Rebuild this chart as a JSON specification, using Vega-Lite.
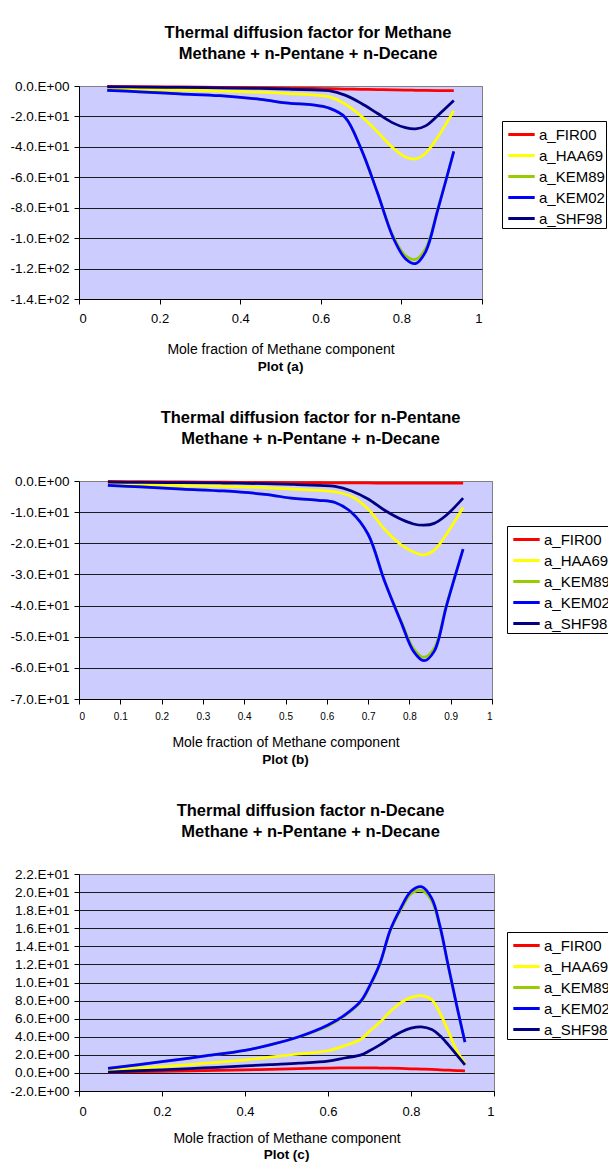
{
  "$schema": "https://vega.github.io/schema/vega-lite/v6.json",
  "background": "white",
  "padding": {"left": 9, "top": 25, "right": 0, "bottom": 0},
  "datasets": {
    "rows": [
      {"p":"a","x":0.07,"a_FIR00":-0.3,"a_HAA69":-1.4,"a_KEM89":-2.8,"a_KEM02":-2.8,"a_SHF98":-0.6},
      {"p":"a","x":0.15,"a_FIR00":-0.45,"a_HAA69":-2.0,"a_KEM89":-3.8,"a_KEM02":-3.8,"a_SHF98":-0.7},
      {"p":"a","x":0.25,"a_FIR00":-0.65,"a_HAA69":-2.7,"a_KEM89":-5.2,"a_KEM02":-5.2,"a_SHF98":-0.9},
      {"p":"a","x":0.35,"a_FIR00":-0.85,"a_HAA69":-3.3,"a_KEM89":-6.4,"a_KEM02":-6.4,"a_SHF98":-1.2},
      {"p":"a","x":0.45,"a_FIR00":-1.1,"a_HAA69":-4.1,"a_KEM89":-8.8,"a_KEM02":-8.8,"a_SHF98":-1.6},
      {"p":"a","x":0.52,"a_FIR00":-1.35,"a_HAA69":-5.0,"a_KEM89":-11.3,"a_KEM02":-11.3,"a_SHF98":-2.1},
      {"p":"a","x":0.58,"a_FIR00":-1.6,"a_HAA69":-5.9,"a_KEM89":-12.4,"a_KEM02":-12.4,"a_SHF98":-2.6},
      {"p":"a","x":0.62,"a_FIR00":-1.8,"a_HAA69":-7.0,"a_KEM89":-14.5,"a_KEM02":-14.5,"a_SHF98":-3.1},
      {"p":"a","x":0.66,"a_FIR00":-2.0,"a_HAA69":-11.8,"a_KEM89":-20.5,"a_KEM02":-20.5,"a_SHF98":-6.0},
      {"p":"a","x":0.70,"a_FIR00":-2.2,"a_HAA69":-19.7,"a_KEM89":-41.3,"a_KEM02":-41.3,"a_SHF98":-11.3},
      {"p":"a","x":0.74,"a_FIR00":-2.4,"a_HAA69":-30,"a_KEM89":-69.7,"a_KEM02":-69.7,"a_SHF98":-17.9},
      {"p":"a","x":0.78,"a_FIR00":-2.55,"a_HAA69":-40.9,"a_KEM89":-99,"a_KEM02":-100,"a_SHF98":-24.4},
      {"p":"a","x":0.81,"a_FIR00":-2.7,"a_HAA69":-46.6,"a_KEM89":-111.5,"a_KEM02":-113.5,"a_SHF98":-27.4},
      {"p":"a","x":0.835,"a_FIR00":-2.8,"a_HAA69":-47.9,"a_KEM89":-114,"a_KEM02":-116.7,"a_SHF98":-28.2},
      {"p":"a","x":0.86,"a_FIR00":-2.9,"a_HAA69":-44.2,"a_KEM89":-107,"a_KEM02":-109,"a_SHF98":-26.2},
      {"p":"a","x":0.89,"a_FIR00":-3.0,"a_HAA69":-33.7,"a_KEM89":-81,"a_KEM02":-81.7,"a_SHF98":-19.5},
      {"p":"a","x":0.93,"a_FIR00":-3.1,"a_HAA69":-16.2,"a_KEM89":-43,"a_KEM02":-43,"a_SHF98":-9.6},

      {"p":"b","x":0.07,"a_FIR00":-0.15,"a_HAA69":-0.75,"a_KEM89":-1.4,"a_KEM02":-1.4,"a_SHF98":-0.4},
      {"p":"b","x":0.15,"a_FIR00":-0.2,"a_HAA69":-1.1,"a_KEM89":-1.9,"a_KEM02":-1.9,"a_SHF98":-0.45},
      {"p":"b","x":0.25,"a_FIR00":-0.3,"a_HAA69":-1.45,"a_KEM89":-2.6,"a_KEM02":-2.6,"a_SHF98":-0.55},
      {"p":"b","x":0.35,"a_FIR00":-0.4,"a_HAA69":-1.75,"a_KEM89":-3.2,"a_KEM02":-3.2,"a_SHF98":-0.65},
      {"p":"b","x":0.45,"a_FIR00":-0.45,"a_HAA69":-2.1,"a_KEM89":-4.3,"a_KEM02":-4.3,"a_SHF98":-0.85},
      {"p":"b","x":0.52,"a_FIR00":-0.5,"a_HAA69":-2.6,"a_KEM89":-5.6,"a_KEM02":-5.6,"a_SHF98":-1.1},
      {"p":"b","x":0.58,"a_FIR00":-0.55,"a_HAA69":-3.0,"a_KEM89":-6.2,"a_KEM02":-6.2,"a_SHF98":-1.4},
      {"p":"b","x":0.62,"a_FIR00":-0.6,"a_HAA69":-3.5,"a_KEM89":-6.9,"a_KEM02":-6.9,"a_SHF98":-1.7},
      {"p":"b","x":0.66,"a_FIR00":-0.62,"a_HAA69":-5.0,"a_KEM89":-10.1,"a_KEM02":-10.1,"a_SHF98":-3.2},
      {"p":"b","x":0.70,"a_FIR00":-0.64,"a_HAA69":-9.0,"a_KEM89":-17.1,"a_KEM02":-17.1,"a_SHF98":-5.8},
      {"p":"b","x":0.74,"a_FIR00":-0.66,"a_HAA69":-15.5,"a_KEM89":-32.2,"a_KEM02":-32.2,"a_SHF98":-9.4},
      {"p":"b","x":0.78,"a_FIR00":-0.67,"a_HAA69":-20.5,"a_KEM89":-45,"a_KEM02":-45.4,"a_SHF98":-12.3},
      {"p":"b","x":0.81,"a_FIR00":-0.68,"a_HAA69":-22.8,"a_KEM89":-53.8,"a_KEM02":-54.7,"a_SHF98":-13.8},
      {"p":"b","x":0.835,"a_FIR00":-0.69,"a_HAA69":-23.7,"a_KEM89":-56.6,"a_KEM02":-57.7,"a_SHF98":-14.2},
      {"p":"b","x":0.86,"a_FIR00":-0.7,"a_HAA69":-22.2,"a_KEM89":-53.8,"a_KEM02":-54.7,"a_SHF98":-13.6},
      {"p":"b","x":0.89,"a_FIR00":-0.7,"a_HAA69":-17,"a_KEM89":-39.6,"a_KEM02":-40,"a_SHF98":-10.9},
      {"p":"b","x":0.93,"a_FIR00":-0.7,"a_HAA69":-8.5,"a_KEM89":-21.9,"a_KEM02":-21.9,"a_SHF98":-5.5},

      {"p":"c","x":0.07,"a_FIR00":0.08,"a_HAA69":0.3,"a_KEM89":0.5,"a_KEM02":0.5,"a_SHF98":0.1},
      {"p":"c","x":0.2,"a_FIR00":0.17,"a_HAA69":0.7,"a_KEM89":1.25,"a_KEM02":1.25,"a_SHF98":0.35},
      {"p":"c","x":0.3,"a_FIR00":0.25,"a_HAA69":1.05,"a_KEM89":1.85,"a_KEM02":1.85,"a_SHF98":0.55},
      {"p":"c","x":0.4,"a_FIR00":0.33,"a_HAA69":1.45,"a_KEM89":2.5,"a_KEM02":2.5,"a_SHF98":0.78},
      {"p":"c","x":0.46,"a_FIR00":0.4,"a_HAA69":1.75,"a_KEM89":3.1,"a_KEM02":3.1,"a_SHF98":0.92},
      {"p":"c","x":0.53,"a_FIR00":0.47,"a_HAA69":2.1,"a_KEM89":4.0,"a_KEM02":4.0,"a_SHF98":1.07},
      {"p":"c","x":0.6,"a_FIR00":0.53,"a_HAA69":2.45,"a_KEM89":5.2,"a_KEM02":5.3,"a_SHF98":1.3},
      {"p":"c","x":0.64,"a_FIR00":0.55,"a_HAA69":3.0,"a_KEM89":6.3,"a_KEM02":6.4,"a_SHF98":1.65},
      {"p":"c","x":0.68,"a_FIR00":0.55,"a_HAA69":3.75,"a_KEM89":7.9,"a_KEM02":8.0,"a_SHF98":2.0},
      {"p":"c","x":0.70,"a_FIR00":0.55,"a_HAA69":4.6,"a_KEM89":9.5,"a_KEM02":9.6,"a_SHF98":2.45},
      {"p":"c","x":0.725,"a_FIR00":0.54,"a_HAA69":5.6,"a_KEM89":12.0,"a_KEM02":12.1,"a_SHF98":3.1},
      {"p":"c","x":0.75,"a_FIR00":0.52,"a_HAA69":6.8,"a_KEM89":15.7,"a_KEM02":15.8,"a_SHF98":3.85},
      {"p":"c","x":0.775,"a_FIR00":0.5,"a_HAA69":7.75,"a_KEM89":18.0,"a_KEM02":18.2,"a_SHF98":4.5},
      {"p":"c","x":0.8,"a_FIR00":0.46,"a_HAA69":8.35,"a_KEM89":19.8,"a_KEM02":20.1,"a_SHF98":4.95},
      {"p":"c","x":0.825,"a_FIR00":0.42,"a_HAA69":8.55,"a_KEM89":20.2,"a_KEM02":20.6,"a_SHF98":5.1},
      {"p":"c","x":0.85,"a_FIR00":0.38,"a_HAA69":8.1,"a_KEM89":19.0,"a_KEM02":19.3,"a_SHF98":4.8},
      {"p":"c","x":0.87,"a_FIR00":0.34,"a_HAA69":6.6,"a_KEM89":16.0,"a_KEM02":16.2,"a_SHF98":4.1},
      {"p":"c","x":0.89,"a_FIR00":0.3,"a_HAA69":4.6,"a_KEM89":11.7,"a_KEM02":11.8,"a_SHF98":3.1},
      {"p":"c","x":0.91,"a_FIR00":0.26,"a_HAA69":2.5,"a_KEM89":7.4,"a_KEM02":7.5,"a_SHF98":2.0},
      {"p":"c","x":0.93,"a_FIR00":0.22,"a_HAA69":1.1,"a_KEM89":3.4,"a_KEM02":3.4,"a_SHF98":0.9}
    ]
  },
  "data": {"name": "rows"},
  "spacing": 36,
  "vconcat": [
    {
      "title": {"text": ["Thermal diffusion factor for Methane", "Methane + n-Pentane + n-Decane"], "offset": 16},
      "vconcat": [
        {
          "width": 403,
          "height": 213,
          "title": {"text": "Plot (a)", "orient": "bottom", "fontSize": 13.5, "offset": 4, "frame": "group", "anchor": "middle"},
          "transform": [
            {"filter": "datum.p == 'a'"},
            {"fold": ["a_FIR00", "a_HAA69", "a_KEM89", "a_KEM02", "a_SHF98"], "as": ["series", "value"]}
          ],
          "mark": {"type": "line", "interpolate": "catmull-rom", "strokeWidth": 2.75},
          "encoding": {
            "x": {"field": "x", "type": "quantitative", "scale": {"domain": [0, 1], "nice": false},
              "axis": {"values": [0, 0.2, 0.4, 0.6, 0.8, 1], "format": "~g", "title": "Mole fraction of Methane component", "labelFontSize": 13, "labelPadding": 8, "titlePadding": 17}},
            "y": {"field": "value", "type": "quantitative", "scale": {"domain": [-140, 0], "nice": false},
              "axis": {"values": [-140, -120, -100, -80, -60, -40, -20, 0], "title": null,
                "gridColor": {"condition": {"test": "datum.value == 0", "value": "#808080"}, "value": "#1a1a1a"},
                "labelExpr": "(datum.value == 0) ? '0.0.E+00' : ((datum.value < 0 ? '-' : '') + format(abs(datum.value) / pow(10, floor(log(abs(datum.value)) / LN10 + 1e-9)), '.1f') + '.E' + (floor(log(abs(datum.value)) / LN10 + 1e-9) < 0 ? '-' : '+') + format(abs(floor(log(abs(datum.value)) / LN10 + 1e-9)), '02d'))"}},
            "color": {"field": "series", "type": "nominal",
              "scale": {"domain": ["a_FIR00", "a_HAA69", "a_KEM89", "a_KEM02", "a_SHF98"], "range": ["#FF0000", "#FFFF00", "#99CC00", "#0000FF", "#000080"]},
              "legend": {"title": null, "legendX": 423, "legendY": 35}}
          }
        }
      ]
    },
    {
      "title": {"text": ["Thermal diffusion factor for n-Pentane", "Methane + n-Pentane + n-Decane"], "offset": 26},
      "vconcat": [
        {
          "width": 413,
          "height": 218,
          "title": {"text": "Plot (b)", "orient": "bottom", "fontSize": 13.5, "offset": 4, "frame": "group", "anchor": "middle"},
          "transform": [
            {"filter": "datum.p == 'b'"},
            {"fold": ["a_FIR00", "a_HAA69", "a_KEM89", "a_KEM02", "a_SHF98"], "as": ["series", "value"]}
          ],
          "mark": {"type": "line", "interpolate": "catmull-rom", "strokeWidth": 2.75},
          "encoding": {
            "x": {"field": "x", "type": "quantitative", "scale": {"domain": [0, 1], "nice": false},
              "axis": {"values": [0, 0.1, 0.2, 0.3, 0.4, 0.5, 0.6, 0.7, 0.8, 0.9, 1], "format": "~g", "title": "Mole fraction of Methane component", "labelFontSize": 10, "labelPadding": 7, "titlePadding": 14}},
            "y": {"field": "value", "type": "quantitative", "scale": {"domain": [-70, 0], "nice": false},
              "axis": {"values": [-70, -60, -50, -40, -30, -20, -10, 0], "title": null,
                "gridColor": {"condition": {"test": "datum.value == 0", "value": "#808080"}, "value": "#1a1a1a"},
                "labelExpr": "(datum.value == 0) ? '0.0.E+00' : ((datum.value < 0 ? '-' : '') + format(abs(datum.value) / pow(10, floor(log(abs(datum.value)) / LN10 + 1e-9)), '.1f') + '.E' + (floor(log(abs(datum.value)) / LN10 + 1e-9) < 0 ? '-' : '+') + format(abs(floor(log(abs(datum.value)) / LN10 + 1e-9)), '02d'))"}},
            "color": {"field": "series", "type": "nominal",
              "scale": {"domain": ["a_FIR00", "a_HAA69", "a_KEM89", "a_KEM02", "a_SHF98"], "range": ["#FF0000", "#FFFF00", "#99CC00", "#0000FF", "#000080"]},
              "legend": {"title": null, "legendX": 428, "legendY": 45}}
          }
        }
      ]
    },
    {
      "title": {"text": ["Thermal diffusion factor n-Decane", "Methane + n-Pentane + n-Decane"], "offset": 26},
      "vconcat": [
        {
          "width": 415,
          "height": 217,
          "title": {"text": "Plot (c)", "orient": "bottom", "fontSize": 13.5, "offset": 3, "frame": "group", "anchor": "middle"},
          "transform": [
            {"filter": "datum.p == 'c'"},
            {"fold": ["a_FIR00", "a_HAA69", "a_KEM89", "a_KEM02", "a_SHF98"], "as": ["series", "value"]}
          ],
          "mark": {"type": "line", "interpolate": "catmull-rom", "strokeWidth": 2.75},
          "encoding": {
            "x": {"field": "x", "type": "quantitative", "scale": {"domain": [0, 1], "nice": false},
              "axis": {"values": [0, 0.2, 0.4, 0.6, 0.8, 1], "format": "~g", "title": "Mole fraction of Methane component", "labelFontSize": 13, "labelPadding": 9, "titlePadding": 13}},
            "y": {"field": "value", "type": "quantitative", "scale": {"domain": [-2, 22], "nice": false},
              "axis": {"values": [-2, 0, 2, 4, 6, 8, 10, 12, 14, 16, 18, 20, 22], "title": null,
                "gridColor": {"condition": {"test": "datum.value == 22", "value": "#808080"}, "value": "#1a1a1a"},
                "labelExpr": "(datum.value == 0) ? '0.0.E+00' : ((datum.value < 0 ? '-' : '') + format(abs(datum.value) / pow(10, floor(log(abs(datum.value)) / LN10 + 1e-9)), '.1f') + '.E' + (floor(log(abs(datum.value)) / LN10 + 1e-9) < 0 ? '-' : '+') + format(abs(floor(log(abs(datum.value)) / LN10 + 1e-9)), '02d'))"}},
            "color": {"field": "series", "type": "nominal",
              "scale": {"domain": ["a_FIR00", "a_HAA69", "a_KEM89", "a_KEM02", "a_SHF98"], "range": ["#FF0000", "#FFFF00", "#99CC00", "#0000FF", "#000080"]},
              "legend": {"title": null, "legendX": 428, "legendY": 58}}
          }
        }
      ]
    }
  ],
  "resolve": {"scale": {"color": "independent"}},
  "config": {
    "font": "Liberation Sans",
    "view": {"fill": "#CCCCFF", "stroke": "#808080", "strokeWidth": 1},
    "title": {"font": "Liberation Sans", "fontSize": 16.5, "fontWeight": "bold", "color": "#000000", "lineHeight": 21, "anchor": "middle", "frame": "bounds"},
    "axis": {"labelFont": "Liberation Sans", "labelColor": "#000000", "domainColor": "#000000", "tickColor": "#000000", "titleFont": "Liberation Sans", "titleFontWeight": "normal", "titleColor": "#000000", "titleFontSize": 14},
    "axisX": {"grid": false, "tickSize": 5},
    "axisY": {"grid": true, "gridWidth": 1, "tickSize": 5, "labelFontSize": 13.5, "labelPadding": 5},
    "legend": {"orient": "none", "strokeColor": "#000000", "fillColor": "#FFFFFF", "padding": 1, "symbolType": "M-1.2,0L1.2,0", "symbolStrokeWidth": 3, "symbolSize": 484, "symbolOffset": 6, "labelFont": "Liberation Sans", "labelFontSize": 15, "labelColor": "#000000", "rowPadding": 0, "labelOffset": 5, "cornerRadius": 0}
  }
}
